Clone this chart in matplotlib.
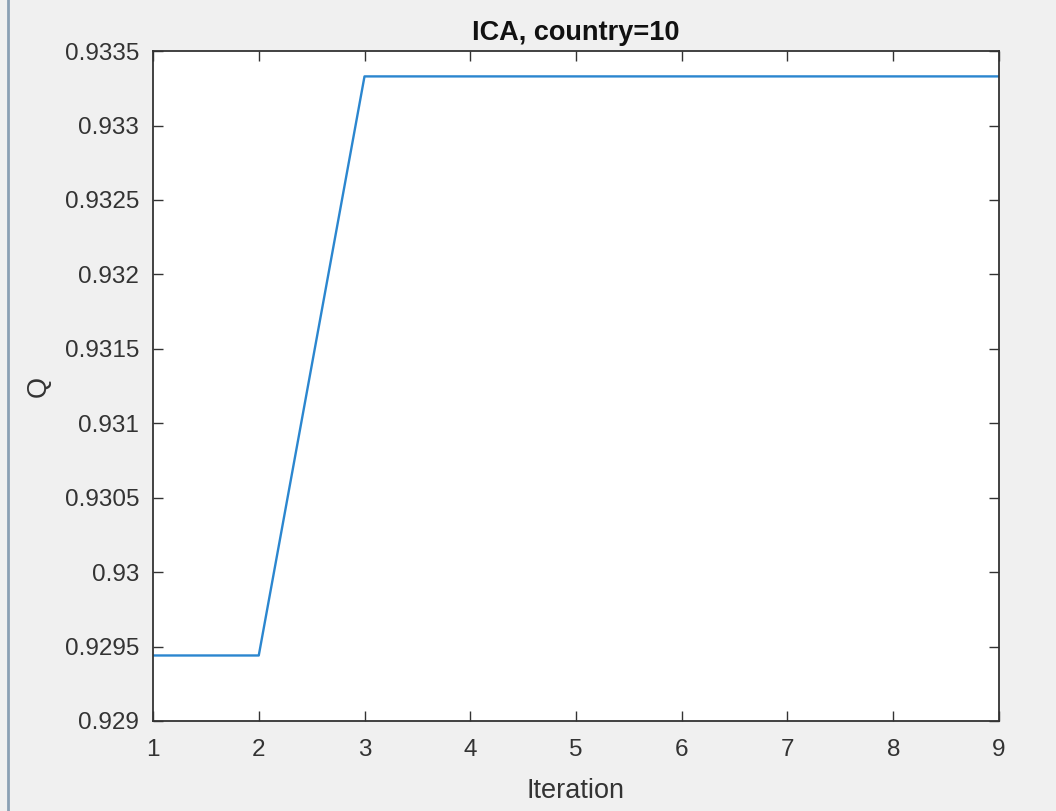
import matplotlib.pyplot as plt
from matplotlib.lines import Line2D
import numpy as np

# ICA convergence, best Q per iteration
iteration = [1, 2, 3, 4, 5, 6, 7, 8, 9]
q_values = [0.92944, 0.92944, 0.93333, 0.93333, 0.93333, 0.93333, 0.93333, 0.93333, 0.93333]
y_ticks = [0.929, 0.9295, 0.93, 0.9305, 0.931, 0.9315, 0.932, 0.9325, 0.933, 0.9335]
y_labels = ['0.929', '0.9295', '0.93', '0.9305', '0.931', '0.9315', '0.932', '0.9325', '0.933', '0.9335']

plt.rcParams['font.family'] = ['Liberation Sans', 'DejaVu Sans']

fig = plt.figure(figsize=(10.56, 8.11), dpi=100, facecolor='#f0f0f0')
ax = fig.add_axes([0.1449, 0.111, 0.8011, 0.826])
ax.plot(iteration, q_values, color='#2b86cf', linewidth=1.7)

ax.set_xlim(1, 9)
ax.set_ylim(0.929, 0.9335)
ax.set_xticks(iteration)
ax.set_yticks(y_ticks)
ax.set_yticklabels(y_labels)

ax.tick_params(direction='in', top=True, right=True, length=7, width=1,
               colors='#333333', labelsize=17.5)
ax.tick_params(axis='x', pad=13)
ax.tick_params(axis='y', pad=10)
for s in ax.spines.values():
    s.set_color('#333333')
    s.set_linewidth(1.3)

ax.set_xlabel('Iteration', fontsize=19.5, color='#333333', labelpad=12)
ax.set_ylabel('Q', fontsize=19.5, color='#333333', labelpad=9)
ax.set_title('ICA, country=10', fontsize=19.5, fontweight='bold', color='#111111', pad=8)

# window edge on the left of the screenshot
fig.add_artist(Line2D([0.0076, 0.0076], [0, 1], transform=fig.transFigure,
                      color='#8aa0b4', linewidth=2))

fig.savefig('out.png', dpi=100, facecolor=fig.get_facecolor())
